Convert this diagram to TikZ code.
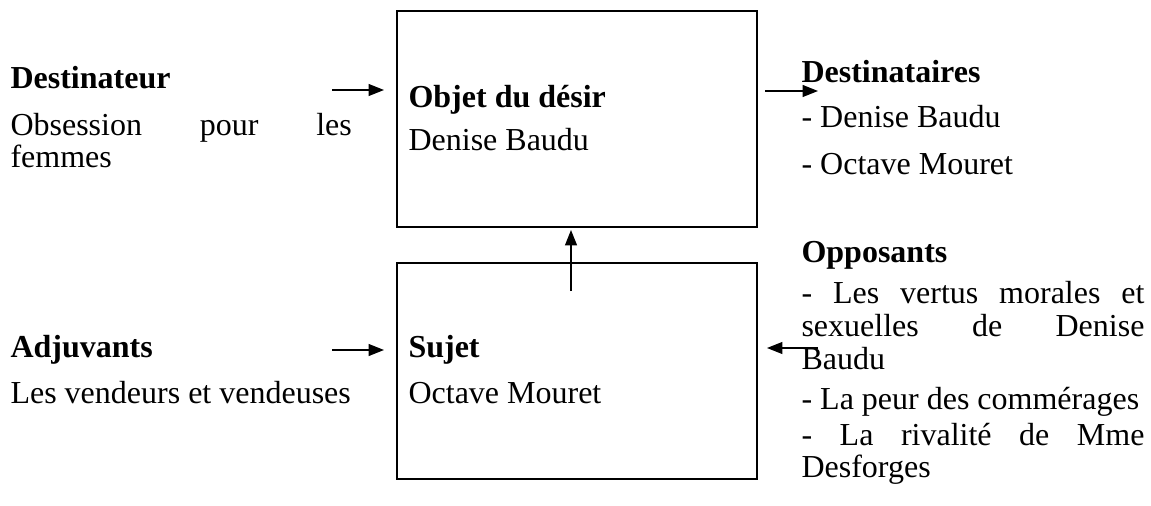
\documentclass[tikz,border=0pt]{standalone}
\usepackage{fontspec}
\setmainfont{Liberation Serif}
\usetikzlibrary{arrows.meta}
\begin{document}
\begin{tikzpicture}[x=0.375pt,y=-0.375pt,
 txt/.style={anchor=base west, inner sep=0pt, font=\fontsize{12}{14}\selectfont},
 hd/.style={anchor=base west, inner sep=0pt, font=\fontsize{12}{14}\selectfont\bfseries},
 boite/.style={draw, line width=1pt, minimum width=135pt, minimum height=81pt, inner sep=0pt},
 fl/.style={-{Triangle[length=5.8pt,width=4.5pt]}, line width=0.5pt}]
\useasboundingbox (0,0) rectangle (1151,506);
% boxes
\node[boite] (obj) at (577,119) {};
\node[boite] (suj) at (577,371) {};
% Destinateur
\node[hd]  (dst)  at (10,89)  {Destinateur};
\node[txt] (dst1) at (10,135) {\makebox[128pt][s]{Obsession pour les}};
\node[txt] (dst2) at (10,167) {femmes};
% Objet
\node[hd]  (objt) at (408,107) {Objet du désir};
\node[txt] (objn) at (408,150) {Denise Baudu};
% Destinataires
\node[hd]  (dsa)  at (801,83)  {Destinataires};
\node[txt] (dsa1) at (801,128) {- Denise Baudu};
\node[txt] (dsa2) at (801,174) {- Octave Mouret};
% Opposants
\node[hd]  (opp)  at (801,262) {Opposants};
\node[txt] (opp1) at (801,303) {\makebox[128.6pt][s]{- Les vertus morales et}};
\node[txt] (opp2) at (801,336) {\makebox[128.6pt][s]{sexuelles de Denise}};
\node[txt] (opp3) at (801,369) {Baudu};
\node[txt] (opp4) at (801,409) {- La peur des commérages};
\node[txt] (opp5) at (801,445) {\makebox[128.6pt][s]{- La rivalité de Mme}};
\node[txt] (opp6) at (801,477) {Desforges};
% Adjuvants
\node[hd]  (adj)  at (10,357) {Adjuvants};
\node[txt] (adj1) at (10,403) {Les vendeurs et vendeuses};
% Sujet
\node[hd]  (sujt) at (408,357) {Sujet};
\node[txt] (sujn) at (408,403) {Octave Mouret};
% arrow ends
\coordinate (a1s) at (332,90);  \coordinate (a1e) at (384,90);
\coordinate (a2s) at (765,91);  \coordinate (a2e) at (818,91);
\coordinate (a3s) at (571,291); \coordinate (a3e) at (571,230);
\coordinate (a4s) at (332,350); \coordinate (a4e) at (384,350);
\coordinate (a5s) at (818,348); \coordinate (a5e) at (767,348);
\draw[fl] (a1s) -- (a1e);
\draw[fl] (a2s) -- (a2e);
\draw[fl] (a3s) -- (a3e);
\draw[fl] (a4s) -- (a4e);
\draw[fl] (a5s) -- (a5e);
\end{tikzpicture}
\end{document}
